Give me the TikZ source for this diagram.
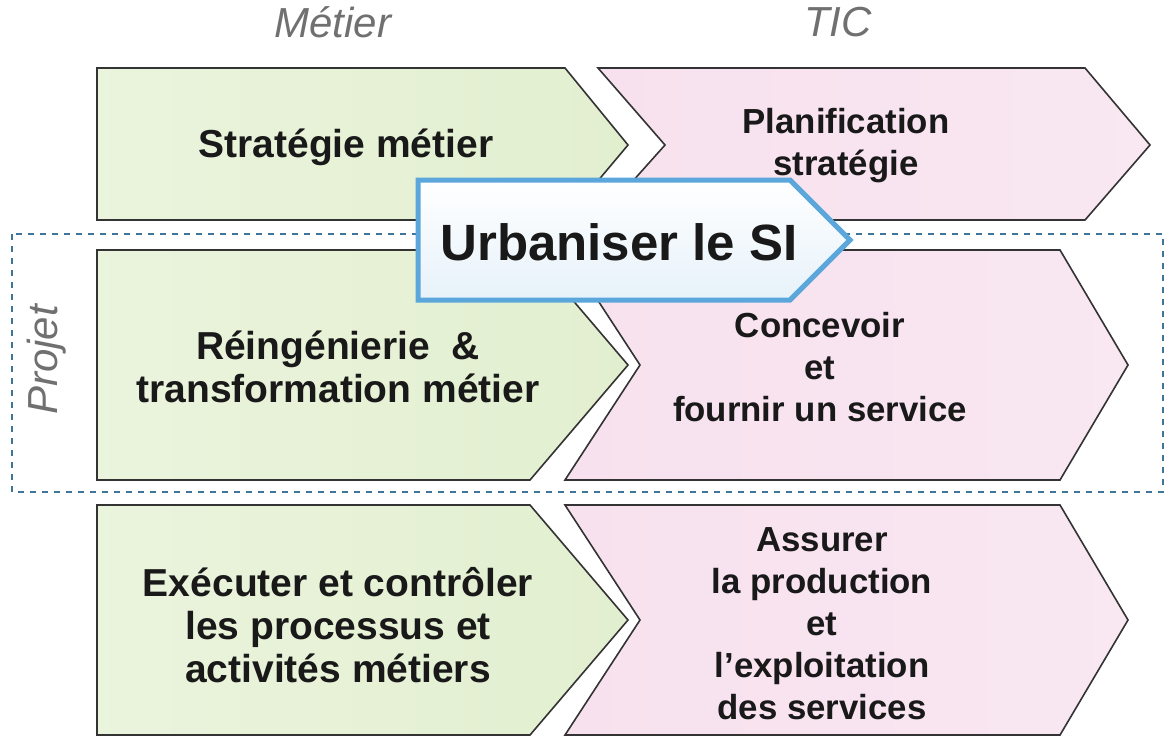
\documentclass[tikz,border=0pt]{standalone}
\usepackage{fontspec}
\setmainfont{Liberation Sans}
\definecolor{metiergreen}{HTML}{E2EFCF}
\definecolor{ticpink}{HTML}{F7E1EE}
\definecolor{urbablue}{HTML}{5BA7DC}
\definecolor{titlegray}{HTML}{707070}
\tikzset{
  chevron/.style={draw=black!80, line width=0.8pt},
  metier/.style={chevron, left color=metiergreen!70!white, right color=metiergreen},
  tic/.style={chevron, left color=ticpink, right color=ticpink!80!white},
  label/.style={font=\bfseries\fontsize{19.5}{21.5}\selectfont, align=center, text=black!90},
  ticlabel/.style={label, font=\bfseries\fontsize{17.4}{21}\selectfont},
  heading/.style={font=\itshape\fontsize{21}{24}\selectfont, text=titlegray}
}
\begin{document}
\begin{tikzpicture}[x=0.5pt,y=-0.5pt]
  \useasboundingbox (0,0) rectangle (1176,745);

  % colonne metier
  \path[metier] (97,68) -- (565,68) -- (628,145) -- (565,220) -- (97,220) -- cycle;
  \path[metier] (97,250) -- (530,250) -- (628,365) -- (530,480) -- (97,480) -- cycle;
  \path[metier] (97,505) -- (530,505) -- (628,620) -- (530,735) -- (97,735) -- cycle;

  % colonne TIC
  \path[tic] (598,68) -- (1085,68) -- (1150,145) -- (1085,220) -- (598,220) -- (665,145) -- cycle;
  \path[tic] (565,250) -- (1060,250) -- (1128,365) -- (1060,480) -- (565,480) -- (640,365) -- cycle;
  \path[tic] (565,505) -- (1060,505) -- (1128,620) -- (1060,735) -- (565,735) -- (640,620) -- cycle;

  % projet
  \draw[urbablue!70!black, dashed, line width=0.6pt] (12,234) rectangle (1163,492);
  \node[heading, rotate=90] (projet) at (47,360) {Projet};

  \node[heading] (metierhead) at (333,22) {Métier};
  \node[heading] (tichead) at (838,22) {TIC};

  \node[label] (strat) at (346,147) {Stratégie métier};
  \node[ticlabel] (planif) at (846,146) {Planification\\stratégie};
  \node[label] (reing) at (338,367) {Réingénierie~~\&\\transformation métier};
  \node[ticlabel] (conc) at (820,367) {Concevoir\\et\\fournir un service};
  \node[label] (exec) at (338,625) {Exécuter et contrôler\\les processus et\\activités métiers};
  \node[ticlabel] (assur) at (822,624) {Assurer\\la production\\et\\l’exploitation\\des services};

  % urbaniser
  \path[draw=urbablue, line width=2.5pt, top color=white, bottom color=urbablue!15, line join=miter]
    (418,180) -- (790,180) -- (850,240) -- (790,300) -- (418,300) -- cycle;
  \node[font=\bfseries\fontsize{25.5}{28}\selectfont, text=black!90] (urba) at (619,242) {Urbaniser le SI};
\end{tikzpicture}
\end{document}
